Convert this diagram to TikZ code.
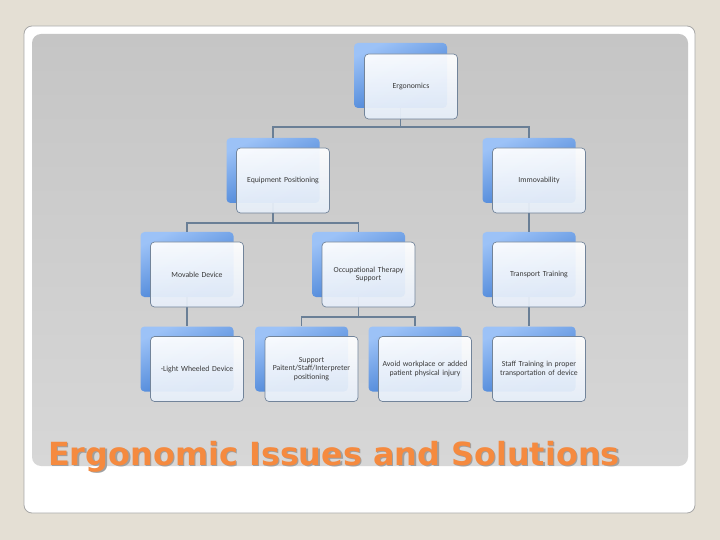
\documentclass[tikz,border=0pt]{standalone}
\usepackage{fontspec}
\setmainfont{Carlito}
\newfontfamily\titlefont{DejaVu Sans}
\definecolor{bgc}{HTML}{E4DFD4}
\definecolor{cardline}{HTML}{A8A8A8}
\definecolor{paneltop}{HTML}{C5C5C5}
\definecolor{panelmid}{HTML}{CFCFCF}
\definecolor{panelbot}{HTML}{D7D7D7}
\definecolor{bluetop}{HTML}{9CC2F7}
\definecolor{bluebot}{HTML}{3675CF}
\definecolor{frontbot}{HTML}{E6EEF9}
\definecolor{boxline}{HTML}{72849A}
\definecolor{connc}{HTML}{6A7F96}
\definecolor{textgray}{HTML}{3A3A3A}
\definecolor{titlec}{HTML}{F58A3F}
\definecolor{titleshadow}{HTML}{A0A0A0}
\begin{document}
\begin{tikzpicture}[x=1bp,y=-1bp,
  backbox/.style={rectangle, rounded corners=4bp, minimum width=93bp, minimum height=65bp,
    top color=bluetop, bottom color=bluebot, shading angle=25, draw=none, inner sep=0pt},
  frontbox/.style={rectangle, rounded corners=4bp, minimum width=93bp, minimum height=65bp,
    top color=white, bottom color=frontbot, draw=boxline, line width=0.7bp, fill opacity=0.93,
    text opacity=1, align=center, font=\fontsize{7.8}{8.8}\selectfont, text=textgray,
    inner sep=1bp, text width=90bp},
  conn/.style={draw=connc, line width=1.1bp}]
\useasboundingbox (0,0) rectangle (720,540);
\fill[bgc] (0,0) rectangle (720,540);
% card
\draw[cardline, fill=white, line width=0.8bp, rounded corners=8bp] (24,26) rectangle (695,513);
% panel
\shade[rounded corners=9bp, top color=paneltop, middle color=panelmid, bottom color=panelbot] (32,34) rectangle (688,466);
% back boxes
\node[backbox] (erg) at (400.5,75.5) {};
\node[backbox] (eq) at (273,170.5) {};
\node[backbox] (imm) at (529,170.5) {};
\node[backbox] (mov) at (187,264.5) {};
\node[backbox] (ot) at (358.5,264.5) {};
\node[backbox] (tr) at (529,264.5) {};
\node[backbox] (lwd) at (187,359) {};
\node[backbox] (sup) at (301.5,359) {};
\node[backbox] (avo) at (415,359) {};
\node[backbox] (stf) at (529,359) {};
% connectors
\coordinate (b1) at (400.5,127);
\coordinate (b2) at (273,223);
\coordinate (b3) at (358.5,317);
\draw[conn] (erg.south) -- (b1) -| (eq.north);
\draw[conn] (b1) -| (imm.north);
\draw[conn] (eq.south) -- (b2) -| (mov.north);
\draw[conn] (b2) -| (ot.north);
\draw[conn] (imm.south) -- (tr.north);
\draw[conn] (mov.south) -- (lwd.north);
\draw[conn] (ot.south) -- (b3) -| (sup.north);
\draw[conn] (b3) -| (avo.north);
\draw[conn] (tr.south) -- (stf.north);
% front boxes
\node[frontbox] (ergf) at (411,86.5) {Ergonomics};
\node[frontbox] (eqf) at (283,180.5) {Equipment Positioning};
\node[frontbox] (immf) at (539,180.5) {Immovability};
\node[frontbox] (movf) at (197,274.5) {Movable Device};
\node[frontbox] (otf) at (368.5,274.5) {Occupational Therapy\\Support};
\node[frontbox] (trf) at (539,274.5) {Transport Training};
\node[frontbox] (lwdf) at (197,369) {-Light Wheeled Device};
\node[frontbox] (supf) at (311.5,369) {Support\\Paitent/Staff/Interpreter\\positioning};
\node[frontbox] (avof) at (425,369) {Avoid workplace or added\\patient physical injury};
\node[frontbox] (stff) at (539,369) {Staff Training in proper\\transportation of device};
% title
\node[anchor=base west, inner sep=0pt, text=titleshadow, font=\titlefont\bfseries\fontsize{32}{35}\selectfont] (titsh) at (49.5,466.5) {Ergonomic Issues and Solutions};
\node[anchor=base west, inner sep=0pt, text=titlec, font=\titlefont\bfseries\fontsize{32}{35}\selectfont] (title) at (48,465) {Ergonomic Issues and Solutions};
\end{tikzpicture}
\end{document}
